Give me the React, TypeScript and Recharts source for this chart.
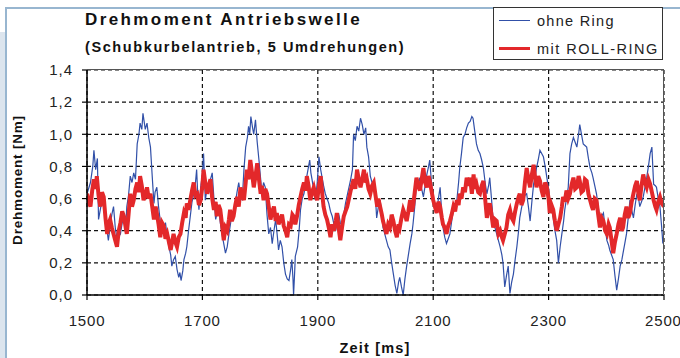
import React from 'react';
import { LineChart, Line, XAxis, YAxis, CartesianGrid } from 'recharts';

const titleLine1 = 'Drehmoment Antriebswelle';
const titleLine2 = '(Schubkurbelantrieb, 5 Umdrehungen)';
const xLabel = 'Zeit [ms]';
const yLabel = 'Drehmoment [Nm]';
const seriesNames = ['ohne Ring', 'mit ROLL-RING'];

const xTicks = [1500, 1700, 1900, 2100, 2300, 2500];
const yTicks = [0, 0.2, 0.4, 0.6, 0.8, 1.0, 1.2, 1.4];

const ohneRingT = [
  1500,1506,1510,1512,1515,1518,1520,1524,1529,1533,1537,1540,1543,1546,1549,1552,1555,1558,1561,1564,1567,1569,1572,1575,1578,1581,1584,1587,1590,1592,1595,1597,1599,1601,1604,1607,1610,1613,1616,1618,1621,1624,1627,1630,1633,1636,1639,1642,1645,1647,1650,1653,1656,1659,1661,1663,1666,1668,1671,1673,1676,1679,1682,1685,1688,1690,1692,1694,1697,1700,1702,1704,1705,1708,1711,1714,1717,1720,1723,1726,1728,1731,1734,1737,1740,1743,1746,1749,1751,1754,1757,1760,1763,1766,1769,1772,1775,1778,1780,1782,1784,1787,1789,1792,1795,1798,1801,1803,1806,1809,1812,1815,1818,1821,1824,1827,1830,1832,1835,1838,1841,1844,1847,1850,1853,1855,1857,1858,1860,1861,1865,1868,1870,1873,1876,1879,1881,1884,1886,1888,1890,1893,1896,1899,1902,1905,1907,1910,1913,1916,1919,1922,1925,1928,1931,1934,1936,1939,1942,1945,1948,1951,1954,1957,1960,1962,1965,1968,1971,1974,1977,1980,1983,1985,1988,1991,1994,1997,2000,2002,2005,2008,2011,2013,2016,2019,2022,2025,2028,2031,2034,2037,2040,2042,2045,2048,2051,2054,2057,2060,2063,2065,2068,2071,2074,2077,2080,2083,2086,2089,2092,2094,2097,2100,2103,2106,2109,2112,2115,2117,2120,2123,2126,2129,2132,2135,2138,2141,2144,2146,2149,2152,2155,2158,2161,2164,2167,2169,2172,2175,2178,2181,2184,2187,2190,2193,2196,2198,2201,2204,2207,2210,2213,2216,2219,2221,2224,2227,2230,2233,2236,2239,2242,2245,2248,2250,2253,2256,2259,2262,2265,2268,2271,2274,2277,2279,2282,2285,2288,2291,2294,2297,2300,2302,2305,2308,2311,2314,2317,2320,2323,2326,2328,2331,2334,2337,2340,2343,2346,2349,2352,2354,2357,2360,2363,2366,2369,2372,2375,2377,2380,2383,2386,2389,2392,2395,2398,2401,2404,2406,2409,2412,2415,2418,2421,2424,2427,2429,2432,2435,2438,2441,2444,2447,2450,2453,2456,2458,2461,2464,2467,2470,2473,2476,2479,2482,2485,2487,2490,2493,2496,2498,2500
];
const ohneRingV = [
  0.63,0.7,0.8,0.9,0.78,0.85,0.47,0.55,0.6,0.45,0.34,0.42,0.5,0.55,0.42,0.35,0.4,0.38,0.45,0.48,0.42,0.55,0.62,0.74,0.7,0.76,0.72,0.94,1.0,1.07,1.03,1.13,1.08,1.03,1.07,0.98,0.92,0.74,0.57,0.64,0.67,0.55,0.46,0.38,0.42,0.45,0.36,0.3,0.25,0.18,0.22,0.24,0.16,0.11,0.14,0.09,0.15,0.22,0.26,0.3,0.4,0.49,0.58,0.63,0.7,0.78,0.62,0.53,0.67,0.75,0.88,0.7,0.59,0.66,0.63,0.72,0.76,0.6,0.47,0.52,0.55,0.45,0.38,0.32,0.26,0.3,0.38,0.45,0.51,0.48,0.57,0.64,0.7,0.62,0.59,0.78,0.92,0.98,1.05,1.0,1.11,1.04,1.0,1.09,0.95,0.84,0.72,0.63,0.7,0.67,0.5,0.38,0.42,0.32,0.4,0.47,0.36,0.28,0.34,0.3,0.2,0.13,0.1,0.09,0.16,0.22,0.1,0.0,0.15,0.24,0.3,0.42,0.53,0.6,0.63,0.7,0.74,0.8,0.84,0.76,0.72,0.65,0.59,0.7,0.86,0.78,0.74,0.68,0.63,0.6,0.57,0.52,0.49,0.44,0.4,0.47,0.51,0.45,0.43,0.5,0.57,0.62,0.67,0.72,0.78,1.0,0.96,1.05,1.02,1.1,1.06,1.0,1.04,0.92,0.86,0.74,0.7,0.67,0.6,0.48,0.55,0.59,0.5,0.42,0.38,0.34,0.3,0.28,0.2,0.13,0.06,0.01,0.08,0.11,0.05,0.0,0.1,0.18,0.25,0.32,0.38,0.44,0.55,0.69,0.7,0.73,0.66,0.61,0.68,0.75,0.8,0.84,0.7,0.57,0.54,0.51,0.6,0.67,0.5,0.42,0.36,0.32,0.35,0.38,0.46,0.53,0.56,0.59,0.7,0.79,0.88,0.98,1.0,1.04,1.07,1.08,1.11,1.1,1.02,0.94,0.9,0.88,0.84,0.79,0.7,0.63,0.68,0.73,0.6,0.46,0.42,0.38,0.34,0.3,0.25,0.2,0.05,0.12,0.18,0.01,0.08,0.13,0.22,0.3,0.4,0.48,0.54,0.59,0.62,0.63,0.55,0.46,0.58,0.69,0.74,0.79,0.84,0.9,0.88,0.86,0.8,0.73,0.66,0.59,0.54,0.48,0.4,0.34,0.2,0.3,0.38,0.46,0.53,0.6,0.67,0.88,0.94,0.98,0.95,0.92,1.0,1.06,1.0,0.94,0.93,0.92,0.85,0.79,0.76,0.73,0.68,0.63,0.55,0.46,0.49,0.51,0.42,0.34,0.31,0.28,0.25,0.22,0.12,0.03,0.1,0.18,0.22,0.26,0.32,0.38,0.48,0.59,0.53,0.48,0.56,0.63,0.6,0.55,0.58,0.61,0.67,0.73,0.8,0.88,0.92,0.69,0.68,0.67,0.6,0.55,0.42,0.32,0.38
];

const rollRingT = [
  1500,1503,1506,1509,1512,1515,1517,1520,1523,1526,1529,1532,1535,1538,1540,1543,1546,1549,1552,1555,1558,1561,1564,1567,1569,1572,1575,1578,1581,1584,1587,1590,1592,1595,1598,1601,1604,1607,1610,1613,1616,1619,1621,1624,1627,1630,1633,1636,1639,1642,1645,1648,1650,1653,1656,1659,1662,1665,1668,1671,1673,1676,1679,1682,1685,1688,1691,1694,1697,1700,1702,1705,1708,1711,1714,1717,1720,1723,1725,1728,1731,1734,1737,1740,1743,1746,1748,1751,1754,1757,1760,1763,1766,1769,1772,1775,1777,1780,1783,1786,1789,1792,1795,1798,1801,1803,1806,1809,1812,1815,1818,1821,1824,1827,1829,1832,1835,1838,1841,1844,1847,1850,1853,1856,1858,1861,1864,1867,1870,1873,1876,1879,1881,1884,1887,1890,1893,1896,1899,1902,1905,1908,1910,1913,1916,1919,1922,1925,1928,1931,1933,1936,1939,1942,1945,1948,1951,1954,1957,1960,1962,1965,1968,1971,1974,1977,1980,1983,1985,1988,1991,1994,1997,2000,2003,2005,2008,2011,2013,2016,2019,2022,2025,2028,2031,2034,2037,2040,2042,2045,2048,2051,2054,2057,2060,2063,2065,2068,2071,2074,2077,2080,2083,2086,2089,2092,2094,2097,2100,2103,2106,2109,2112,2115,2117,2120,2123,2126,2129,2132,2135,2138,2141,2144,2146,2149,2152,2155,2158,2161,2164,2167,2170,2172,2175,2178,2181,2184,2187,2190,2193,2196,2198,2201,2204,2207,2210,2213,2216,2219,2221,2224,2227,2230,2233,2236,2239,2242,2245,2248,2250,2253,2256,2259,2262,2265,2268,2271,2274,2277,2279,2282,2285,2288,2291,2294,2297,2300,2302,2305,2308,2311,2314,2317,2320,2323,2325,2328,2331,2334,2337,2340,2343,2346,2349,2352,2354,2357,2360,2363,2366,2369,2372,2375,2377,2380,2383,2386,2389,2392,2395,2398,2401,2404,2406,2409,2412,2415,2418,2421,2424,2427,2429,2432,2435,2438,2441,2444,2447,2450,2453,2456,2458,2461,2464,2467,2470,2473,2476,2479,2482,2485,2487,2490,2493,2496,2500
];
const rollRingV = [
  0.63,0.58,0.55,0.65,0.72,0.66,0.74,0.62,0.55,0.64,0.61,0.48,0.38,0.45,0.47,0.42,0.38,0.34,0.3,0.4,0.45,0.52,0.49,0.42,0.38,0.5,0.63,0.55,0.59,0.66,0.7,0.64,0.74,0.68,0.59,0.62,0.67,0.6,0.63,0.55,0.47,0.55,0.51,0.44,0.36,0.45,0.43,0.35,0.38,0.33,0.28,0.34,0.38,0.33,0.3,0.36,0.38,0.45,0.51,0.48,0.57,0.53,0.59,0.65,0.7,0.62,0.63,0.56,0.59,0.68,0.78,0.7,0.63,0.68,0.72,0.6,0.53,0.58,0.49,0.56,0.53,0.44,0.34,0.42,0.4,0.47,0.53,0.46,0.49,0.56,0.61,0.55,0.67,0.62,0.59,0.7,0.78,0.72,0.84,0.76,0.67,0.74,0.82,0.72,0.63,0.68,0.59,0.66,0.63,0.55,0.47,0.52,0.55,0.46,0.51,0.44,0.47,0.5,0.43,0.4,0.36,0.44,0.43,0.5,0.49,0.44,0.49,0.56,0.61,0.66,0.7,0.65,0.74,0.68,0.59,0.64,0.67,0.62,0.59,0.68,0.74,0.62,0.55,0.5,0.47,0.42,0.36,0.44,0.4,0.46,0.51,0.42,0.34,0.42,0.49,0.52,0.55,0.6,0.65,0.69,0.72,0.66,0.78,0.72,0.67,0.72,0.78,0.7,0.72,0.66,0.63,0.68,0.7,0.62,0.55,0.6,0.55,0.5,0.46,0.42,0.38,0.44,0.42,0.5,0.46,0.4,0.36,0.44,0.42,0.48,0.53,0.5,0.46,0.52,0.59,0.52,0.55,0.64,0.73,0.68,0.65,0.72,0.79,0.7,0.67,0.74,0.71,0.65,0.59,0.55,0.51,0.58,0.55,0.48,0.44,0.42,0.38,0.43,0.46,0.5,0.55,0.52,0.59,0.56,0.63,0.6,0.67,0.64,0.73,0.68,0.73,0.63,0.75,0.66,0.69,0.64,0.63,0.68,0.71,0.6,0.48,0.55,0.57,0.5,0.42,0.47,0.46,0.38,0.4,0.36,0.34,0.38,0.42,0.5,0.53,0.48,0.46,0.52,0.57,0.61,0.63,0.56,0.59,0.7,0.79,0.72,0.67,0.75,0.81,0.72,0.67,0.74,0.71,0.65,0.61,0.7,0.67,0.6,0.51,0.56,0.53,0.46,0.4,0.44,0.48,0.55,0.61,0.58,0.65,0.6,0.63,0.69,0.73,0.66,0.67,0.74,0.71,0.64,0.65,0.72,0.71,0.63,0.59,0.55,0.53,0.6,0.59,0.5,0.42,0.48,0.46,0.4,0.38,0.44,0.42,0.34,0.26,0.33,0.38,0.44,0.48,0.4,0.42,0.5,0.55,0.48,0.51,0.58,0.63,0.68,0.71,0.62,0.59,0.68,0.75,0.7,0.67,0.72,0.69,0.64,0.59,0.55,0.53,0.58,0.61,0.57,0.55
];

const ohneRingData = ohneRingT.map((t, i) => ({ t, v: ohneRingV[i] }));
const rollRingData = rollRingT.map((t, i) => ({ t, v: rollRingV[i] }));

const BLUE = '#3150a8';
const RED = '#e3282a';
const FONT = '"Liberation Sans", Arial, sans-serif';

const abs = (s: React.CSSProperties): React.CSSProperties => ({ position: 'absolute', ...s });

export default function App() {
  return (
    <div style={abs({ left: 0, top: 0, width: 680, height: 358, background: '#fff', overflow: 'hidden', fontFamily: FONT, color: '#111' })}>
      <div style={abs({ left: 0, top: 32, width: 5, height: 326, background: '#dce5ee' })} />
      <div style={abs({ left: 5, top: 7, width: 1.5, height: 351, background: '#98b6d0' })} />
      <div style={abs({ left: 5, top: 7, width: 675, height: 1.5, background: '#98b6d0' })} />

      <div style={abs({ left: 0, top: 0 })}>
        <LineChart width={680} height={358} margin={{ top: 70, right: 16, bottom: 33, left: 47 }}>
          <CartesianGrid stroke="#111" strokeWidth={1.2} strokeDasharray="4 3" horizontal={true} vertical={true} />
          <XAxis
            dataKey="t"
            type="number"
            domain={[1500, 2500]}
            ticks={xTicks}
            allowDataOverflow
            height={30}
            tickSize={5}
            tickMargin={15}
            tick={{ fontSize: 15, fill: '#222', fontFamily: FONT, letterSpacing: 0.8 }}
            axisLine={{ stroke: '#000', strokeWidth: 1.5 }}
            tickLine={{ stroke: '#000', strokeWidth: 1.2 }}
          />
          <YAxis
            type="number"
            domain={[0, 1.4]}
            ticks={yTicks}
            allowDataOverflow
            width={40}
            tickSize={5}
            tickMargin={9}
            tickFormatter={(v: number) => v.toFixed(1).replace('.', ',')}
            tick={{ fontSize: 15, fill: '#222', fontFamily: FONT, letterSpacing: 1 }}
            axisLine={{ stroke: '#000', strokeWidth: 1.5 }}
            tickLine={{ stroke: '#000', strokeWidth: 1.2 }}
          />
          <Line data={ohneRingData} dataKey="v" name={seriesNames[0]} type="linear" stroke={BLUE} strokeWidth={1.2} dot={false} isAnimationActive={false} />
          <Line data={rollRingData} dataKey="v" name={seriesNames[1]} type="linear" stroke={RED} strokeWidth={4} dot={false} isAnimationActive={false} />
        </LineChart>
      </div>

      {/* plot border (top/right) */}
      <div style={abs({ left: 87, top: 69, width: 577, height: 226, borderTop: '1.5px solid #555', borderRight: '1.5px solid #555', boxSizing: 'border-box', pointerEvents: 'none' })} />

      <div style={abs({ left: 85, top: 9, fontSize: 17, fontWeight: 'bold', letterSpacing: 2.4, whiteSpace: 'nowrap', lineHeight: '22px' })}>{titleLine1}</div>
      <div style={abs({ left: 85, top: 37, fontSize: 14.5, fontWeight: 'bold', letterSpacing: 1.6, whiteSpace: 'nowrap', lineHeight: '20px' })}>{titleLine2}</div>

      <div style={abs({ left: 493, top: 7, width: 170, height: 53, border: '1.5px solid #333', background: '#fff', boxSizing: 'border-box' })}>
        <div style={abs({ left: 5, top: 12, width: 31, height: 1.3, background: BLUE })} />
        <div style={abs({ left: 43, top: 3, fontSize: 14.5, letterSpacing: 1.3, whiteSpace: 'nowrap', lineHeight: '20px', color: '#222' })}>{seriesNames[0]}</div>
        <div style={abs({ left: 5, top: 39, width: 31, height: 3, background: RED })} />
        <div style={abs({ left: 43, top: 31, fontSize: 14.5, letterSpacing: 1.5, whiteSpace: 'nowrap', lineHeight: '20px', color: '#222' })}>{seriesNames[1]}</div>
      </div>

      <div style={abs({ left: 18, top: 180, transform: 'translate(-50%, -50%) rotate(-90deg)', fontSize: 13.5, fontWeight: 'bold', letterSpacing: 0.8, whiteSpace: 'nowrap', lineHeight: '16px' })}>{yLabel}</div>
      <div style={abs({ left: 375, top: 348, transform: 'translate(-50%, -50%)', fontSize: 14.5, fontWeight: 'bold', letterSpacing: 1.2, whiteSpace: 'nowrap', lineHeight: '18px' })}>{xLabel}</div>
    </div>
  );
}
